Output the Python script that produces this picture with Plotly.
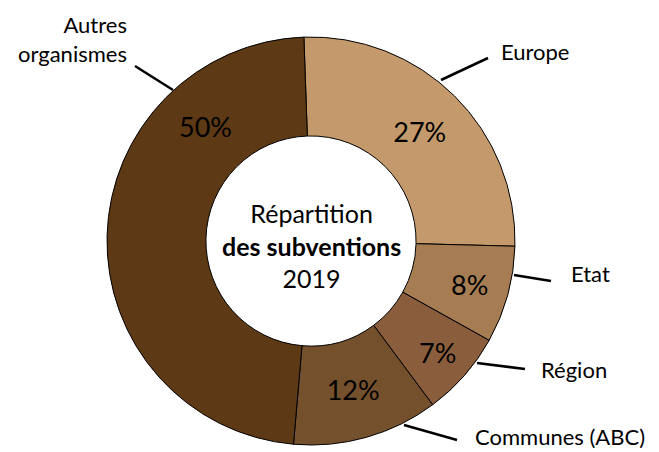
import plotly.graph_objects as go

# Répartition des subventions 2019 (en %)
categories = ["Europe", "Etat", "Région", "Communes (ABC)", "Autres organismes"]
shares = [27, 8, 7, 12, 50]
slice_colors = ["#C49A6C", "#A67C52", "#8A5E3C", "#75502C", "#5E3915"]

W, H = 659, 452
CX, CY, R = 311, 241, 204
FONT = "Lato"


def px(x):
    return x / W


def py(y):
    return 1 - y / H


# Percentage text inside the ring; the largest slice gets its own label higher up
inside_text = [f"{v}%" for v in shares]
inside_text[-1] = ""

fig = go.Figure(
    go.Pie(
        labels=categories,
        values=shares,
        text=inside_text,
        textinfo="text",
        textposition="inside",
        insidetextorientation="horizontal",
        textfont=dict(family=FONT, size=27, color="black"),
        marker=dict(colors=slice_colors, line=dict(color="black", width=1)),
        hole=0.515,
        sort=False,
        direction="clockwise",
        rotation=-2,
        showlegend=False,
        hoverinfo="label+value",
        domain=dict(x=[px(CX - R), px(CX + R)], y=[py(CY + R), py(CY - R)]),
    )
)

annotations = [
    # centre title
    dict(
        x=px(CX), y=py(246), xref="paper", yref="paper",
        text="Répartition<br><b>des subventions</b><br>2019",
        showarrow=False, xanchor="center", yanchor="middle", align="center",
        font=dict(family=FONT, size=25, color="black"),
    ),
    # label of the largest slice
    dict(
        x=px(205), y=py(127), xref="paper", yref="paper",
        text=f"{shares[-1]}%", showarrow=False,
        xanchor="center", yanchor="middle",
        font=dict(family=FONT, size=27, color="black"),
    ),
]

# Outside category labels: (text, x, y, xanchor, align)
outside = [
    ("Autres<br>organismes", 129, 39, "right", "right"),
    (categories[0], 499, 51, "left", "left"),
    (categories[1], 569, 273, "left", "left"),
    (categories[2], 539, 369, "left", "left"),
    (categories[3], 473, 436, "left", "left"),
]
for txt, x, y, xa, al in outside:
    annotations.append(dict(
        x=px(x), y=py(y), xref="paper", yref="paper", text=txt,
        showarrow=False, xanchor=xa, yanchor="middle", align=al,
        font=dict(family=FONT, size=22, color="black"),
    ))

# Leader lines from the ring to the labels
leaders = [
    (135, 66, 173, 90),
    (441, 80, 488, 58),
    (514, 275, 551, 281),
    (477, 363, 525, 369),
    (404, 425, 457, 440),
]
shapes = [
    dict(type="line", xref="paper", yref="paper",
         x0=px(x0), y0=py(y0), x1=px(x1), y1=py(y1),
         line=dict(color="black", width=2.5))
    for x0, y0, x1, y1 in leaders
]

fig.update_layout(
    width=W, height=H,
    margin=dict(l=0, r=0, t=0, b=0),
    paper_bgcolor="white", plot_bgcolor="white",
    annotations=annotations, shapes=shapes,
)

fig.write_html("out.html")
